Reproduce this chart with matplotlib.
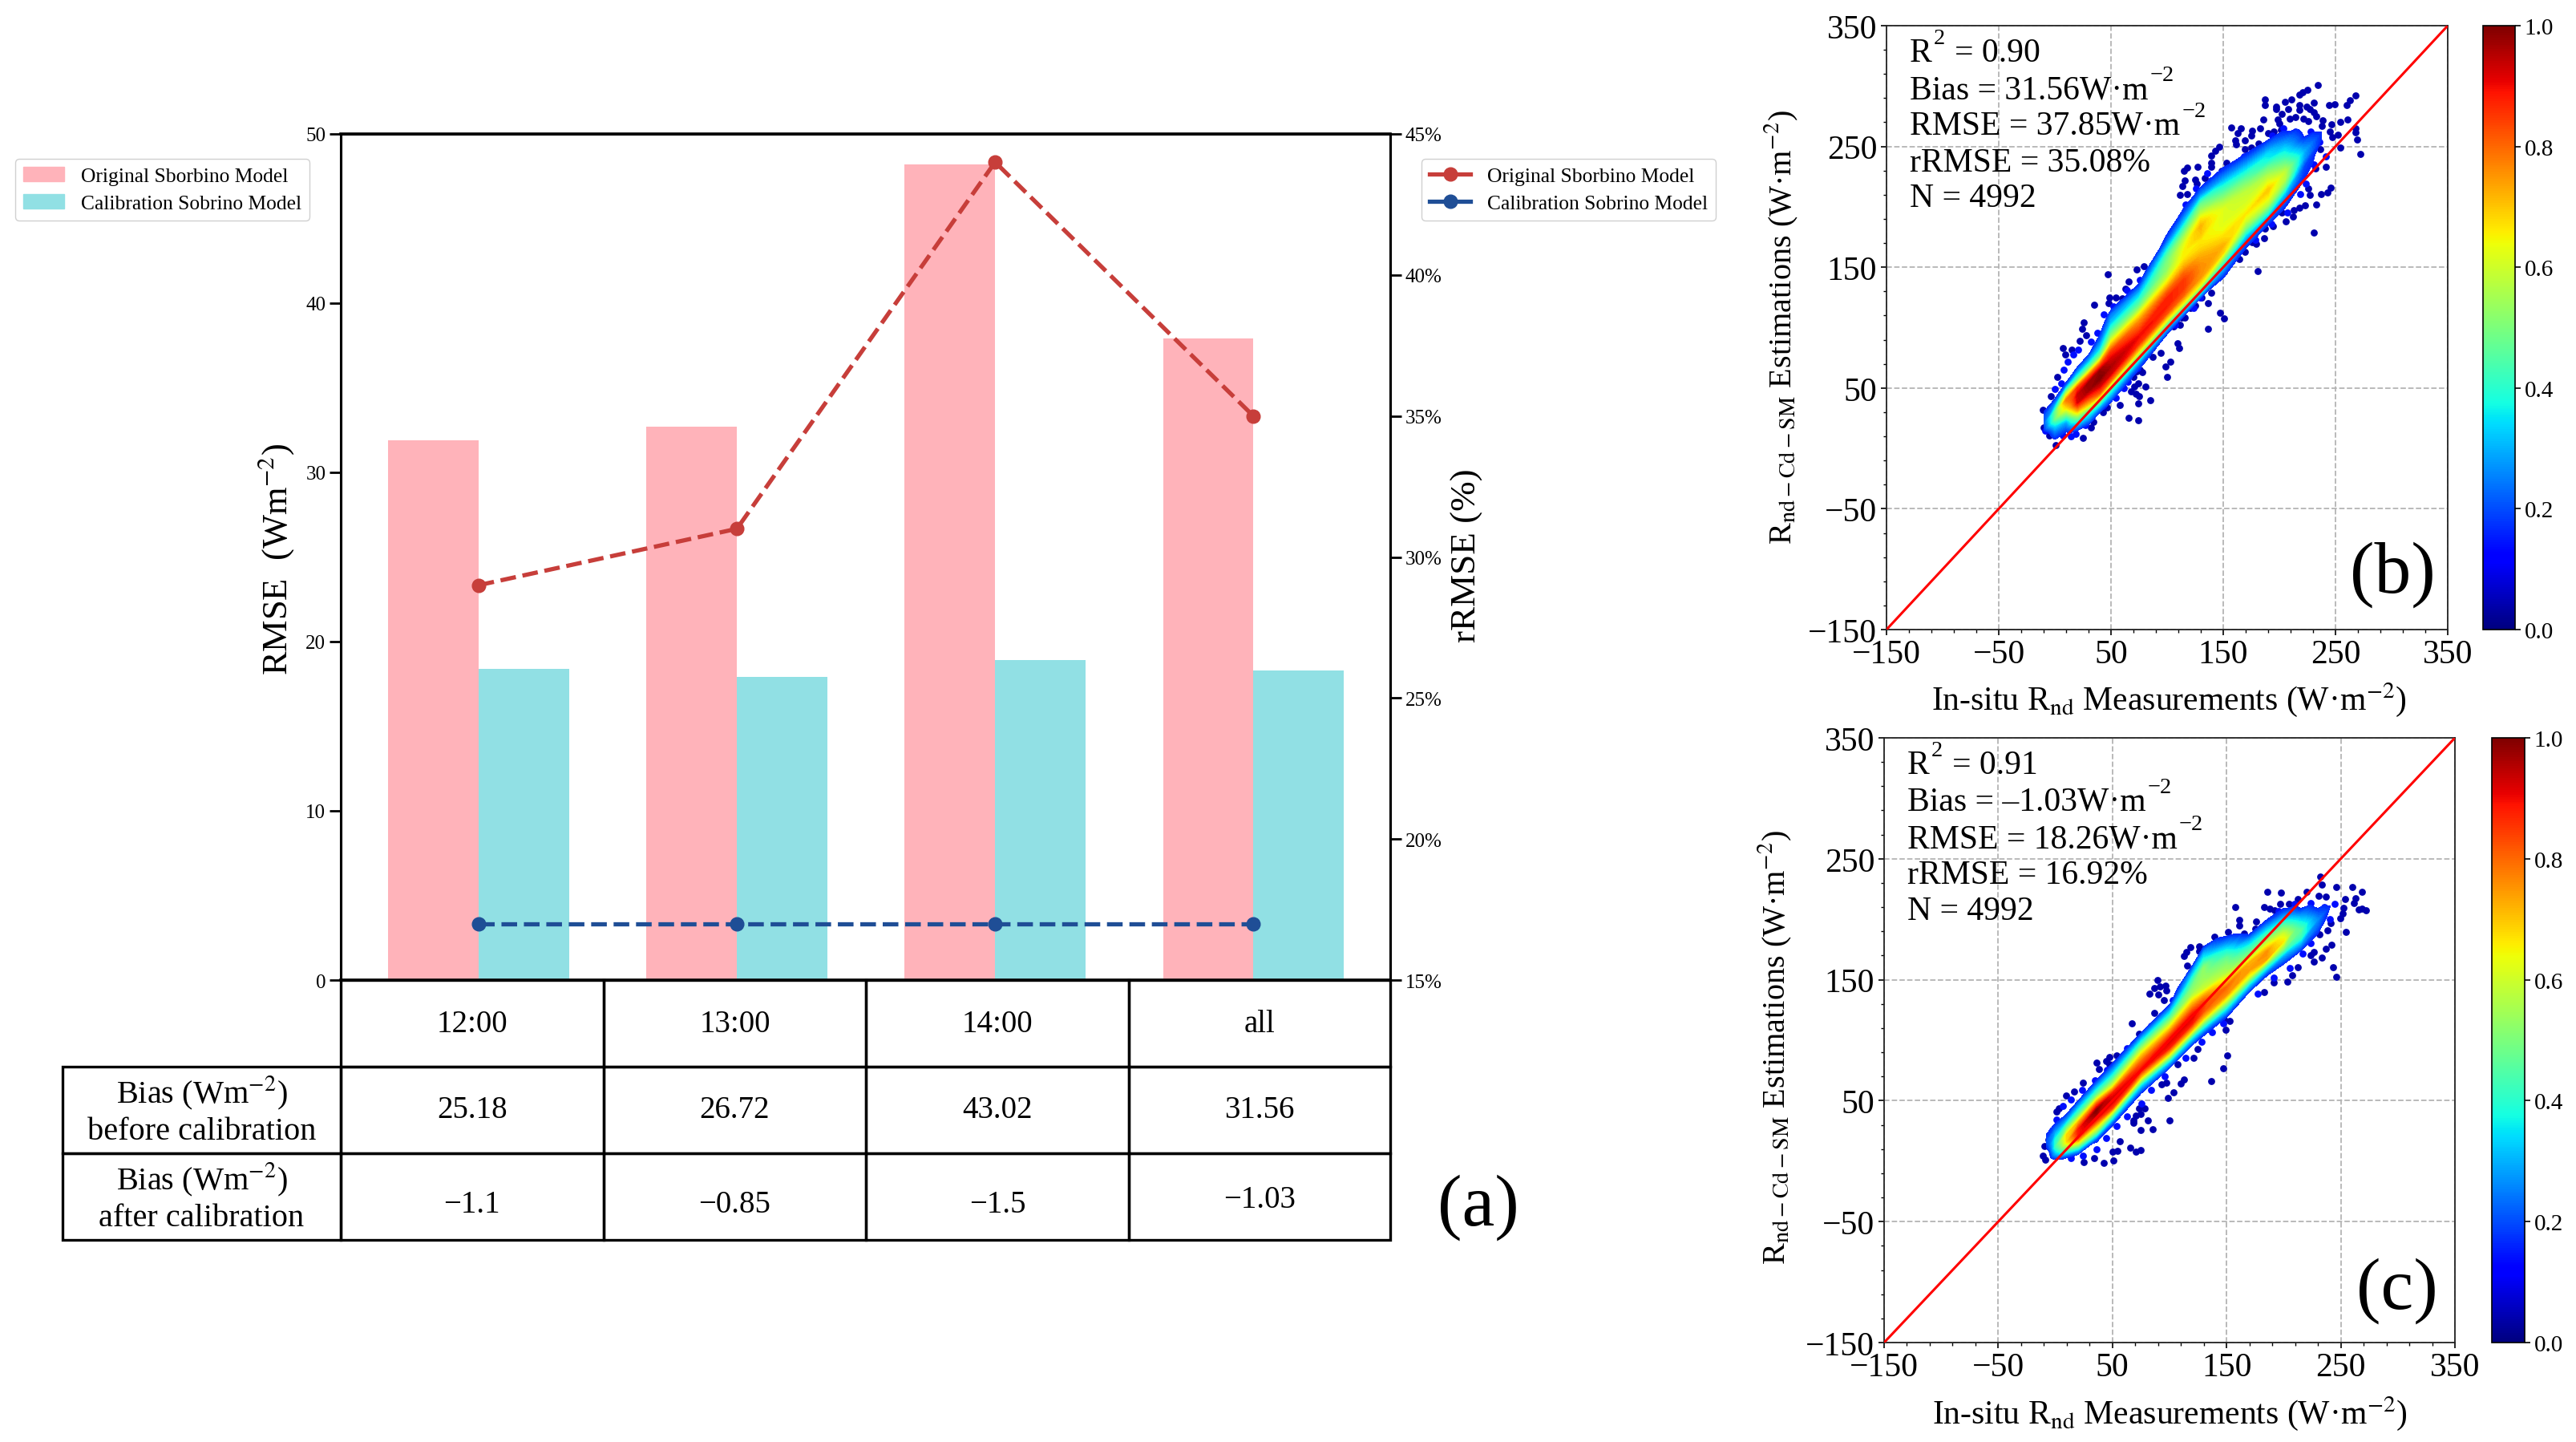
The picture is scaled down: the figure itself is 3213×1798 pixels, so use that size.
import numpy as np
import matplotlib
matplotlib.use('Agg')
import matplotlib.pyplot as plt
from matplotlib.colors import Normalize
from matplotlib.cm import ScalarMappable
from matplotlib.lines import Line2D
from matplotlib.patches import Patch
from matplotlib.ticker import MultipleLocator, AutoMinorLocator, FuncFormatter
from matplotlib.transforms import Affine2D

plt.rcParams['font.family'] = ['Liberation Serif', 'DejaVu Serif']
plt.rcParams['mathtext.fontset'] = 'stix'

W, H = 3213, 1799

# ---------- panel (a) data ----------
hours = ['12:00', '13:00', '14:00', 'all']
rmse_original = [31.9, 32.7, 48.2, 37.9]
rmse_calibrated = [18.4, 17.9, 18.9, 18.3]
rrmse_original = [29, 31, 44, 35]
rrmse_calibrated = [17, 17, 17, 17]
bias_before = ['25.18', '26.72', '43.02', '31.56']
bias_after = ['\u22121.1', '\u22120.85', '\u22121.5', '\u22121.03']

# ---------- panel (b): density ----------
# rows = measured value, columns = estimate minus measured
b_T = [-10, 0, 10, 20, 30, 40, 50, 75, 100, 115, 130, 150, 170, 190, 205, 222, 240, 258]
b_V = [-30, -20, -12, -6, 0, 6, 12, 18, 24, 30, 36, 42, 48, 54, 60, 66, 72, 80, 90]
b_D = [
    [0, 0, 0, 0, 0, 0, 0, 0, .14, .2, .2, .14, 0, 0, 0, 0, 0, 0, 0],
    [0, 0, 0, 0, .08, .14, .22, .33, .48, .46, .27, .14, 0, 0, 0, 0, 0, 0, 0],
    [0, 0, 0, 0, .1, .2, .3, .5, .68, .78, .55, .22, .08, 0, 0, 0, 0, 0, 0],
    [0, 0, 0, .14, .32, .52, .75, .92, .93, .85, .52, .3, .14, .06, 0, 0, 0, 0, 0],
    [0, 0, .12, .27, .42, .68, .85, .97, .98, .8, .5, .3, .15, .08, 0, 0, 0, 0, 0],
    [0, 0, .12, .28, .55, .82, .93, 1.0, .98, .78, .5, .34, .24, .16, .1, 0, 0, 0, 0],
    [0, 0, .15, .3, .45, .78, .93, .96, .92, .85, .7, .55, .43, .32, .25, .14, 0, 0, 0],
    [0, 0, .12, .22, .42, .68, .86, .9, .83, .76, .65, .5, .4, .3, .18, .1, 0, 0, 0],
    [0, 0, 0, .15, .32, .62, .82, .88, .88, .8, .68, .58, .52, .5, .45, .34, .22, .13, 0],
    [0, 0, 0, .14, .35, .65, .8, .85, .85, .8, .72, .66, .65, .62, .55, .45, .33, .2, .1],
    [0, 0, 0, .14, .4, .65, .75, .76, .75, .72, .68, .66, .7, .72, .66, .56, .48, .27, .1],
    [0, 0, .12, .2, .32, .5, .68, .72, .68, .64, .62, .62, .62, .56, .48, .4, .3, .18, .1],
    [0, 0, .1, .14, .22, .34, .5, .6, .66, .62, .6, .58, .52, .45, .36, .27, .18, .1, 0],
    [0, 0, 0, .14, .25, .42, .57, .65, .7, .63, .56, .48, .38, .34, .25, .15, .1, 0, 0],
    [0, 0, .12, .16, .22, .32, .48, .57, .58, .5, .42, .35, .28, .2, .14, .1, 0, 0, 0],
    [0, 0, .12, .14, .16, .18, .2, .28, .3, .24, .16, .13, .1, 0, 0, 0, 0, 0, 0],
    [0, 0, 0, 0, .12, .13, .13, .14, .14, .1, 0, 0, 0, 0, 0, 0, 0, 0, 0],
    [0] * 19,
]
b_px = [47, 79, 73, 35, 48.5, 48, 54, 60, 66, 63, 26, 24, 7, 15, 9, 22, 27.5, 2, -3.4, -11, -10, -5, 1, 25, 32, 34,
        42.5, 46.5, 58, 65.6, 74.6, 74.6, 85, 75, 68, 72, 80.6, 70.6, 74.6, 70, 77.7, 73, 76, 100, 98.4, 103, 94, 87,
        86.5, 82, 78, 111, 109, 136.5, 151, 147, 136.5, 139, 130.6, 125, 120.6, 116, 113, 111.5, 105.6, 151, 141,
        234, 225, 221, 218, 268, 263, 260, 187, 187, 205, 211, 197, 197, 208, 218, 218, 224, 227, 231, 244, 249, 202,
        231, 233, 186, 198.6, 200, 209, 214, 221.6, 226, 238.5, 238, 261, 254, 246.6, 157, 165.5, 176, 183, 163, 175,
        190, 195, 201.7, 267.6, 268, 245, 252, 247, 269, 254.5, 272, 161, 169, 161.7, 146.7, 143, 139, 139, 139.5, 153,
        169, 175, 181.5, 236.7, 127, 118, 115, 116, 125, 133.6, 139.5, 126.5, 113.6, 118, 111.7, 148.6, 148.6, 241.4,
        232, 246, 242.6, 237.4, 233, 226, 227, 223, 218, 213, 212, 205.7, 202, 230.7, 194, 187, 186.7, 179.5, 176, 169,
        164, 180.7]
b_py = [144, 151, 148, 119, 125, 120, 125, 124, 138, 132, 104, 99, 83, 82, 78, 89, 93.6, 59, 43, 32, 17, 11, 3, 9, 17, 22,
        30, 34, 36, 25, 23, 37, 40, 43, 47, 45.5, 51, 51, 54, 59, 63, 64, 65.4, 59, 68, 72, 79, 76,
        83, 78, 73, 83, 87, 99, 107.5, 112, 120, 129, 125, 118, 116, 108, 108, 102, 101, 146, 139,
        301, 297, 295, 293, 292.5, 288, 284, 289, 284, 287, 289, 283, 281, 281, 284, 280, 283, 281, 286.5, 284, 285, 277,
        278, 275, 272, 272.6, 269, 273, 274, 273, 271, 271.5, 267, 272.6, 270, 268, 266, 265, 263, 265, 261, 259,
        261, 262.6, 264, 265, 262, 262.6, 260, 258, 255.5, 249, 244, 255, 255, 251.5, 250, 246.6, 242.6, 236.5, 233, 236.5,
        247.5, 249, 252.6, 248, 233, 232.7, 230, 222, 222.7, 224, 222, 219, 217, 210.6, 210, 230, 227, 233,
        231.6, 216, 211.6, 210.5, 202, 215, 210, 201, 199.4, 197, 191.7, 188, 195, 179, 184, 182, 174, 169.5, 170.6, 163,
        157, 147]
b_ex = [8, 11.6, 16.3, 21, 31.8, 37.7, 43.7, 52, 59, 64, 75.8, 5.6, -.3, -4, -6, -8.7, 6.8, 14, 18.7, 27, 42.5, 54.4,
        61.5, 65, 73.4, 106.8, 123.4, 129.4, 161.7, 168.8, 180.7, 193.8, 203.3, 214, 228, 235.5, 241.4, 230.7, 223.5,
        218.8, 207, 192.6, 178.3, 135.5, 126, 116.5]
b_ey = [65.4, 72, 77.6, 82, 88.7, 95.4, 110.9, 117.5, 119.7, 131, 139.7, 54, 49, 33, 26.6, 14.4, 11, 10, 12, 19, 35.5, 42,
        50, 55.4, 66.5, 102, 116.4, 125, 236, 241.6, 246, 259, 265, 262.6, 262.6, 253.7, 241.6, 235, 219.4,
        210.5, 195, 186, 172.8, 228, 215, 201.6]

# ---------- panel (c): density ----------
c_T = [-8, 0, 10, 20, 36, 50, 75, 100, 120, 130, 150, 170, 185, 200, 215, 230, 245, 260]
c_V = [-54, -48, -42, -36, -30, -24, -18, -12, -6, 0, 6, 12, 18, 24, 30, 36, 42, 48, 54]
c_D = [
    [0, 0, 0, 0, 0, 0, 0, 0, 0, 0, 0, 0, .14, .2, .16, 0, 0, 0, 0],
    [0, 0, 0, 0, 0, 0, 0, 0, 0, .12, .3, .42, .38, .28, .18, .1, 0, 0, 0],
    [0, 0, 0, 0, 0, 0, 0, 0, .2, .5, .68, .68, .48, .28, .14, .08, 0, 0, 0],
    [0, 0, 0, 0, 0, 0, 0, .26, .58, .88, .88, .72, .48, .32, .16, .08, 0, 0, 0],
    [0, 0, 0, 0, 0, .1, .2, .5, .72, .95, 1.0, .78, .5, .33, .17, .1, 0, 0, 0],
    [0, 0, 0, 0, 0, .08, .22, .48, .84, .94, .88, .62, .45, .3, .17, .1, 0, 0, 0],
    [0, 0, 0, 0, 0, .07, .18, .36, .68, .9, .82, .7, .54, .36, .18, .08, 0, 0, 0],
    [0, 0, 0, 0, .07, .13, .33, .64, .88, .92, .78, .62, .46, .3, .14, .08, 0, 0, 0],
    [0, 0, 0, 0, .08, .16, .36, .68, .88, .92, .8, .68, .55, .5, .42, .3, .15, .08, 0],
    [0, 0, 0, 0, .09, .2, .42, .68, .82, .86, .75, .6, .55, .53, .52, .4, .3, .15, .08],
    [0, 0, 0, .08, .18, .36, .58, .76, .8, .66, .56, .52, .47, .38, .27, .16, .08, 0, 0],
    [0, 0, 0, .08, .16, .35, .6, .74, .72, .52, .42, .3, .15, .07, 0, 0, 0, 0, 0],
    [0, 0, 0, .08, .2, .42, .74, .76, .62, .48, .34, .2, .1, 0, 0, 0, 0, 0, 0],
    [0, 0, .07, .18, .3, .52, .66, .6, .48, .33, .2, .12, 0, 0, 0, 0, 0, 0, 0],
    [0, .08, .14, .28, .42, .46, .38, .28, .16, .1, 0, 0, 0, 0, 0, 0, 0, 0, 0],
    [0, .12, .16, .22, .26, .2, .12, .08, 0, 0, 0, 0, 0, 0, 0, 0, 0, 0, 0],
    [0, .1, .1, .1, .12, .1, 0, 0, 0, 0, 0, 0, 0, 0, 0, 0, 0, 0, 0],
    [0] * 19,
]
c_px = [67, 86.4, 82.7, 86.4, 90, 91.3, 97, 96.7, 89.7, 95, 35.8, 38.4, 44.7, 47, 53.5, 47.2, 9.2, 16.5, 24.4, 1, 3.4,
        -6, -9.4, -11, -8.7, 34, 25, 42.3, 51, 50, 54.7, 65.6, 70.3, 74.5, 56.3, 75, 85.5, 80.8, 100, 68.2, 68.2, 70.3,
        74.5, 78, 73.3, 103.6, 98.3, 93.2, 97.1, 109.5, 112.3, 136.5, 146.8, 150.7, 149, 153, 148, 124.6, 121.1, 107.1,
        64, 73.4,
        232, 233.2, 185.8, 197.7, 246.3, 259.8, 268.2, 262.9, 261.2, 253.8, 268.2, 272.2, 265.9, 220.4, 230.9, 236.7,
        212.2, 197.2, 204.7, 157.3, 183, 187.7, 192.3, 252.4, 251.9, 249.6, 160.8, 161.3, 176, 174.8, 254.7, 241.4,
        238.6, 231.3, 151.4, 165.5, 139, 241.9, 237.2, 233.2, 226.2, 243.3, 246, 118, 126.2, 125.8, 112.9, 114.5, 115.7,
        139.8, 207.5, 203.3, 191.2, 183, 212.2, 226.2, 223.9]
c_py = [114, 122.4, 138.5, 143, 138, 144.5, 141.4, 145, 149.6, 133, 81.7, 76.4, 83, 86, 87.7, 80, 54, 57.6, 65, 41, 43.8,
        18, 12.5, 4.7, 1, 2.5, -0.8, -1.5, 0.5, 8, 8.5, 11, 7.6, 9, 16.4, 25.7, 26.2, 34, 33.5, 34, 31.7, 37.9,
        39, 43.9, 43.4, 56.7, 52.3, 63.3, 64.9, 64.4, 67.7, 66.4, 76.6, 87.2, 108.7, 115.7, 117, 92.5, 85.4, 79.9,
        93, 105,
        235, 228.4, 222.9, 222.2, 226.8, 226.8, 222.4, 217.6, 213.2, 217, 208.5, 207.6, 208.1, 222.4, 219.1, 218.5,
        216.5, 212.5, 212.5, 209.8, 209.8, 208.7, 207.4, 209.2, 204.8, 201, 199.7, 194.8, 198.1, 192, 189.3, 197,
        190.9, 187.8, 189.8, 188.2, 185.3, 178.7, 175.6, 168.3, 165, 160.2, 152.4, 176.7, 177.6, 173.9, 169.4, 172.7, 161.7,
        179.4, 154, 148.5, 147.8, 139.6, 160.6, 172.7, 170.5]
c_ex = [1, -2.4, 6.9, 13.9, 23.2, 34.9, 45.4, 62.9, 74.5, 83.8, 93.2, 102.5, -2.4, 13.9, 24.4, 36, 44.2, 53.5, 62.9, 75.7,
        83.8, 95.5, 114.1, 128.1, 137.5, 146.8, 139.8, 156.1, 184.2, 195.8, 209.9, 223.9, 235.5, 244.9, 240.2, 228.5,
        223.9, 216.9, 205.2, 191.2, 177.1]
c_ey = [34.6, 25.7, 45.6, 51, 58.9, 66.6, 75.5, 93.2, 102, 112, 120.8, 133, 5.8, 2.5, 4.7, 10, 19, 29, 36.8, 47.8,
        58.9, 70, 85.4, 98.7, 106.5, 114.2, 178, 184.9, 195.9, 207, 212.5, 213.6, 210.3, 212.5, 200.3, 193.7,
        180.5, 171.6, 159.5, 151.8, 138.5]

label_original = 'Original Sborbino Model'
label_calibrated = 'Calibration Sobrino Model'
MINUS2 = '\u22122'
stats_b = [('R', '2', '= 0.90'), ('Bias = 31.56W\u00b7m', MINUS2, ''), ('RMSE = 37.85W\u00b7m', MINUS2, ''),
           ('rRMSE = 35.08%', '', ''), ('N = 4992', '', '')]
stats_c = [('R', '2', '= 0.91'), ('Bias = \u20131.03W\u00b7m', MINUS2, ''), ('RMSE = 18.26W\u00b7m', MINUS2, ''),
           ('rRMSE = 16.92%', '', ''), ('N = 4992', '', '')]

fig = plt.figure(figsize=(W / 100, H / 100), dpi=100, facecolor='white')
renderer = fig.canvas.get_renderer()


def axes_px(x0, y0, x1, y1):
    return fig.add_axes([x0 / W, 1 - y1 / H, (x1 - x0) / W, (y1 - y0) / H])


def fx(x):
    return x / W


def fy(y):
    return 1 - y / H


# ---------- panel (a) ----------
RED, BLUE = '#C73E3A', '#1F4E96'
PINK, CYAN = '#FFB3BA', '#91E0E4'
ax = axes_px(425, 168, 1734, 1223)
pos = np.arange(len(hours))
bw = 0.35
ax.bar(pos - bw, rmse_original, bw, align='edge', color=PINK)
ax.bar(pos, rmse_calibrated, bw, align='edge', color=CYAN)
ax.set_xlim(-0.534, 3.53)
ax.set_ylim(0, 50)
ax.set_yticks([0, 10, 20, 30, 40, 50])
ax.set_xticks([])
ax.tick_params(axis='y', labelsize=18, length=10, width=2)
for s in ax.spines.values():
    s.set_linewidth(2.2)
ax.spines['top'].set_linewidth(2.6)
ax.spines['bottom'].set_linewidth(2.6)
ax.set_ylabel('RMSE  (Wm$^{-2}$)', fontsize=32)
ax.yaxis.set_label_coords(fx(344), fy(697), transform=fig.transFigure)
ax.yaxis.label.set_verticalalignment('center')

ax2 = ax.twinx()
ax2.plot(pos, rrmse_original, '--o', color=RED, lw=3.8, ms=12)
ax2.plot(pos, rrmse_calibrated, '--o', color=BLUE, lw=3.8, ms=12)
ax2.set_ylim(15, 45)
ax2.set_yticks([15, 20, 25, 30, 35, 40, 45])
ax2.yaxis.set_major_formatter(FuncFormatter(lambda v, p: f'{v:.0f}%'))
ax2.tick_params(axis='y', labelsize=18, length=10, width=2)
for s in ax2.spines.values():
    s.set_linewidth(2.2)
ax2.set_ylabel('rRMSE (%)', fontsize=32.5)
ax2.yaxis.set_label_coords(fx(1830), fy(693), transform=fig.transFigure)
ax2.yaxis.label.set_verticalalignment('center')

# table under the bars
rows = [[''] + hours,
        ['Bias (Wm$^{-2}$)\nbefore calibration'] + bias_before,
        ['Bias (Wm$^{-2}$)\nafter calibration'] + bias_after]
x0t = (78 - 425) / (1734 - 425)
tbl = ax.table(cellText=rows, cellLoc='center',
               colWidths=[347, 328, 328, 328, 326],
               bbox=[x0t, -(1547 - 1223) / 1055, 1 - x0t, (1547 - 1223) / 1055])
tbl.auto_set_font_size(False)
tbl.set_fontsize(28)
for (r, c), cell in tbl.get_celld().items():
    cell.set_linewidth(2.4)
    cell.set_facecolor('none')
    cell.set_clip_on(False)
    if c == 0:
        cell.get_text().set_fontsize(29)
        cell.get_text().set_linespacing(1.25)
tbl[(0, 0)].visible_edges = ''
tbl[(0, 0)].set_linewidth(0)
for c, drop in zip([1, 2, 3, 4], [10, 10, 10, 4]):
    tbl[(2, c)].get_text().set_transform(Affine2D().translate(0, -drop))

fig.legend(handles=[Patch(color=PINK, label=label_original), Patch(color=CYAN, label=label_calibrated)],
           loc='upper left', bbox_to_anchor=(fx(19), fy(199)), borderaxespad=0, fontsize=18.4, labelspacing=0.42,
           framealpha=1, edgecolor='#d0d0d0')
fig.legend(handles=[Line2D([], [], color=RED, marker='o', lw=3.8, ms=12, label=label_original),
                    Line2D([], [], color=BLUE, marker='o', lw=3.8, ms=12, label=label_calibrated)],
           loc='upper left', bbox_to_anchor=(fx(1773), fy(199)), borderaxespad=0, fontsize=18.4, labelspacing=0.42,
           framealpha=1, edgecolor='#d0d0d0')
fig.text(fx(1844), fy(1506), '(a)', fontsize=66, ha='center', va='center')


def stat_line(x, y, base, sup, tail, size=30):
    t = fig.text(fx(x), fy(y), base, fontsize=size, va='baseline', ha='left')
    x1 = t.get_window_extent(renderer).x1
    if sup:
        s = fig.text(x1 / W + 2 / W, fy(y - 22), sup, fontsize=size * 0.68, va='baseline', ha='left')
        x2 = s.get_window_extent(renderer).x1
        if tail:
            fig.text((x2 + 12) / W, fy(y), tail, fontsize=size, va='baseline', ha='left')


# ---------- panels (b), (c) ----------
def density_panel(rect, crect, T, V, D, px, py, ex, ey, stats, stats_xy, tag, tag_xy, xl, yl):
    ax = axes_px(*rect)
    ax.set_axisbelow(True)
    ax.grid(True, which='major', ls='--', color='#b4b4b4', lw=1.3)
    norm = Normalize(0, 1)
    ax.scatter(px, py, s=40, color=plt.cm.jet(0.04), linewidths=0, zorder=2)
    ax.scatter(ex, ey, s=40, color=plt.cm.jet(0.14), linewidths=0, zorder=2.5)
    T = np.asarray(T, float)
    V = np.asarray(V, float)
    Xg = np.repeat(T[:, None], len(V), axis=1)
    Yg = Xg + V[None, :]
    ax.contourf(Xg, Yg, np.asarray(D, float), levels=np.linspace(0.16, 1.0, 85), cmap='jet', norm=norm, zorder=3)
    ax.plot([-150, 350], [-150, 350], color='red', lw=2.2, zorder=4)
    ax.set_xlim(-150, 350)
    ax.set_ylim(-150, 350)
    for axis in (ax.xaxis, ax.yaxis):
        axis.set_major_locator(MultipleLocator(100))
        axis.set_minor_locator(AutoMinorLocator(5))
    ticks = [-150, -50, 50, 150, 250, 350]
    ax.set_xticks(ticks)
    ax.set_yticks(ticks)
    ax.tick_params(axis='both', which='major', labelsize=30, length=5, width=1.2)
    ax.tick_params(axis='both', which='minor', length=3, width=1)
    for s in ax.spines.values():
        s.set_linewidth(1.3)
        s.set_color('#222222')
    ax.set_xlabel('In-situ R$_{\\mathrm{nd}}$ Measurements (W\u00b7m$^{-2}$)', fontsize=30)
    ax.xaxis.set_label_coords(fx(xl[0]), fy(xl[1]), transform=fig.transFigure)
    ax.xaxis.label.set_verticalalignment('center')
    ax.set_ylabel('R$_{\\mathrm{nd-Cd-SM}}$ Estimations (W\u00b7m$^{-2}$)', fontsize=29)
    ax.yaxis.set_label_coords(fx(yl[0]), fy(yl[1]), transform=fig.transFigure)
    ax.yaxis.label.set_verticalalignment('center')
    for (base, sup, tail), y in zip(stats, stats_xy[1]):
        stat_line(stats_xy[0], y, base, sup, tail)
    fig.text(fx(tag_xy[0]), fy(tag_xy[1]), tag, fontsize=66, ha='center', va='center')
    cax = axes_px(*crect)
    cb = fig.colorbar(ScalarMappable(norm=norm, cmap='jet'), cax=cax)
    cb.set_ticks([0, .2, .4, .6, .8, 1.0])
    cb.ax.tick_params(labelsize=21, length=5, width=1.2)
    cb.outline.set_linewidth(1.2)


density_panel((2353, 33, 3053, 786), (3097, 33, 3137, 786), b_T, b_V, b_D, b_px, b_py, b_ex, b_ey, stats_b,
              (2382, [77, 123, 168, 214, 258]), '(b)', (2984, 717), (2705, 873), (2222, 408))
density_panel((2350, 921, 3062, 1675), (3108, 921, 3149, 1675), c_T, c_V, c_D, c_px, c_py, c_ex, c_ey, stats_c,
              (2379, [965, 1011, 1057, 1102, 1147]), '(c)', (2990, 1610), (2706, 1763), (2214, 1306))

fig.savefig('out.png', dpi=100, facecolor='white')
